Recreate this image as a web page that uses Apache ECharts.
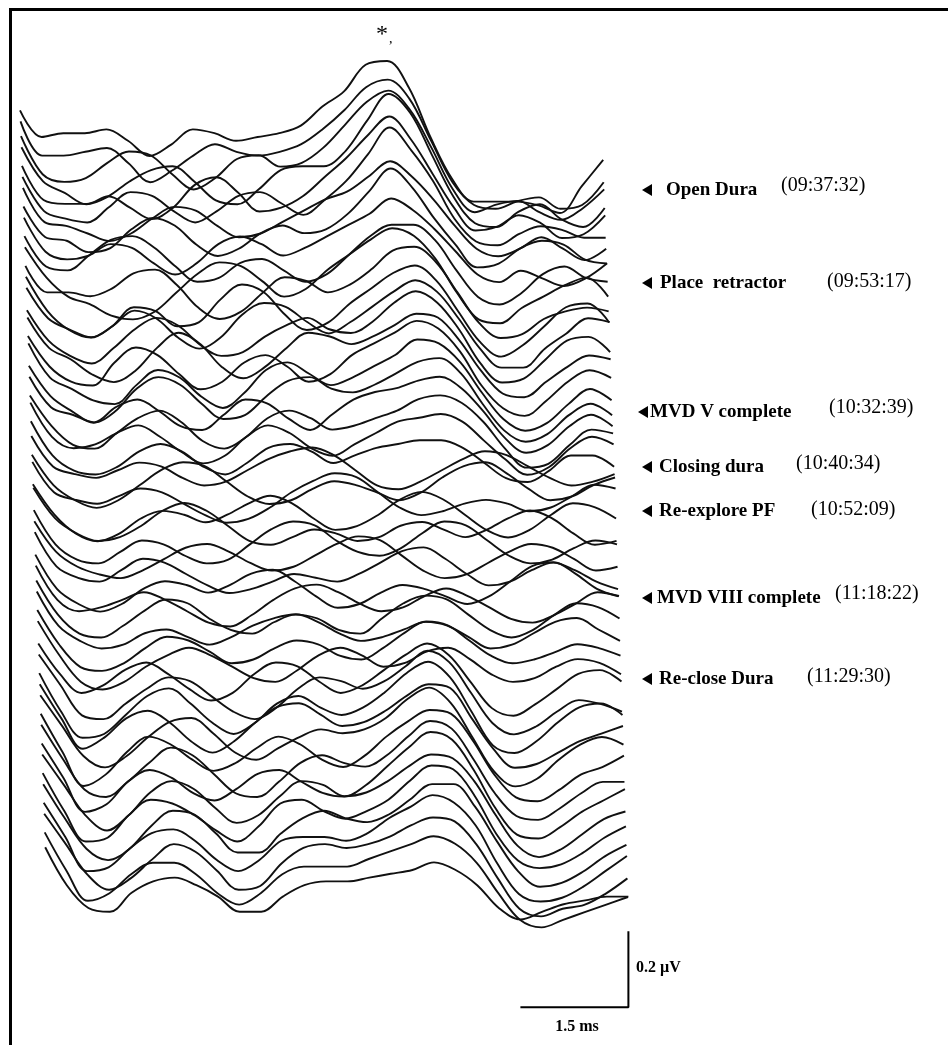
<!DOCTYPE html>
<html><head><meta charset="utf-8">
<script src="https://cdn.jsdelivr.net/npm/echarts@6/dist/echarts.min.js"></script>
<style>html,body{margin:0;padding:0;background:#fff}#c{width:948px;height:1045px}</style>
</head><body><div id="c"></div>
<script>
// Sample times of each averaged response (ms)
const timesMs = [0,0.3,0.6,0.9,1.2,1.5,1.8,2.1,2.4,2.7,3.0,3.3,3.6,3.9,4.2,4.5,4.8,5.1,5.4,5.7,6.0,6.3,6.6,6.9,7.2,7.5,7.8,8.1];

// Response amplitudes, in units of 0.01 µV, earliest trace first
const trace00 = [7,0,1,1,2,-1,-5,-2,2,1,-1,0,1,3,8,12,19,20,13,0,-11,-17,-17,-17,-18,-20,-13,-6];
const trace01 = [8,-1,-1,0,1,-3,-8,-5,-1,2,0,-1,0,2,6,11,17,19,14,3,-8,-14,-15,-13,-12,-15,-14,-8];
const trace02 = [8,-2,-4,-3,1,4,3,-2,-6,-3,2,3,0,1,5,11,17,20,15,5,-6,-12,-10,-9,-12,-14,-11,-6];
const trace03 = [9,0,-3,-6,-4,0,3,4,0,-5,-6,-2,3,4,4,8,16,23,18,7,-4,-11,-12,-8,-6,-10,-12,-7];
const trace04 = [8,-1,-2,-2,0,-3,-6,-3,3,5,1,-4,-3,0,5,10,16,21,15,6,-3,-9,-8,-5,-7,-11,-10,-5];
const trace05 = [9,0,-2,-3,1,5,4,0,-3,0,4,5,2,-1,3,8,15,22,16,8,-2,-8,-9,-6,-4,-5,-7,-7];
const trace06 = [10,1,0,-2,-4,-2,2,5,4,0,-3,-2,1,4,7,9,13,17,13,7,0,-6,-8,-6,-3,-6,-9,-6];
const trace07 = [9,1,0,-3,-2,3,6,4,-1,-4,-2,2,4,2,3,7,13,19,14,6,-1,-7,-6,-2,0,-1,-5,-6];
const trace08 = [10,1,-1,0,3,2,-2,-5,-2,3,5,3,0,2,5,8,11,15,12,7,1,-5,-7,-4,-6,-8,-6,-2];
const trace09 = [9,1,0,4,8,9,6,1,-3,-2,2,3,0,-3,-1,4,9,12,12,8,0,-7,-9,-6,-1,1,-2,-3];
const trace10 = [10,2,-3,-5,-8,-9,-7,-2,3,6,5,1,-3,-1,4,8,12,15,13,7,-2,-9,-10,-6,-3,0,2,-3];
const trace11 = [9,2,2,1,3,7,8,4,-2,-5,-3,2,6,5,2,4,8,13,14,10,2,-6,-10,-9,-5,-3,-2,-3];
const trace12 = [10,1,-4,-6,-3,2,1,-3,-2,4,8,6,0,-4,-2,3,7,11,13,9,1,-7,-11,-8,-3,2,3,-2];
const trace13 = [11,3,0,-2,1,5,3,-2,-5,-2,4,7,6,2,-1,2,6,10,13,10,3,-5,-10,-10,-5,-1,3,2];
const trace14 = [9,1,-3,-5,-1,4,7,5,0,-3,-2,2,5,7,4,3,6,11,14,11,4,-5,-10,-9,-4,1,2,-2];
const trace15 = [11,3,0,-4,-6,-3,3,7,4,-2,-5,-2,3,7,6,4,6,9,12,11,5,-3,-9,-10,-6,-2,1,0];
const trace16 = [10,2,-2,-3,3,7,5,0,-4,-2,3,5,2,-2,0,5,8,11,14,12,6,-3,-9,-11,-7,-2,1,-1];
const trace17 = [12,3,0,-3,-4,1,5,3,-2,-5,-1,5,7,4,1,3,6,9,13,12,7,-1,-8,-11,-9,-4,0,-3];
const trace18 = [10,2,-2,-5,-2,4,7,5,0,-4,-3,2,6,7,4,3,5,8,11,12,8,0,-7,-10,-8,-3,0,-3];
const trace19 = [11,3,1,-1,3,5,2,-2,-3,1,5,4,0,-3,1,5,7,8,10,11,8,2,-5,-9,-7,-2,1,-2];
const trace20 = [10,2,-3,-4,0,4,6,3,-2,-4,-1,4,6,4,1,2,4,6,9,10,8,3,-4,-9,-8,-3,1,0];
const trace21 = [12,3,0,1,4,6,3,-1,-4,-2,3,6,4,0,-2,1,4,7,8,9,7,2,-3,-7,-5,0,3,1];
const trace22 = [11,2,-2,-3,-1,3,5,3,-1,-3,0,4,5,3,0,2,4,5,6,6,4,0,-4,-5,-2,2,2,-1];
const trace23 = [11,3,1,0,2,4,3,0,-2,-1,2,5,7,8,6,2,-2,-3,-1,2,5,7,6,3,0,-2,-1,1];
const trace24 = [10,2,-2,-4,-2,2,6,8,7,3,-1,-3,-2,1,3,2,0,-2,0,4,7,8,5,1,-2,-1,2,4];
const trace25 = [12,4,2,1,3,5,4,1,-2,-4,-3,0,4,7,9,8,4,0,-2,-1,1,2,1,-1,0,3,6,5];
const trace26 = [10,2,-3,-5,-3,1,3,2,0,2,5,7,5,1,-2,-1,2,6,8,6,2,-2,-4,-2,2,5,4,1];
const trace27 = [13,5,1,-1,0,3,7,9,7,3,-1,-2,0,2,1,-1,0,3,4,2,0,2,5,7,5,1,-2,-1];
const trace28 = [11,2,-2,-3,0,3,2,-1,-3,-2,2,6,8,7,3,0,-1,1,5,8,7,3,-1,-3,-2,1,3,2];
const trace29 = [12,4,0,-2,-3,-1,2,5,6,4,1,-1,0,3,6,8,7,3,-1,-3,-2,1,4,6,5,2,-1,0];
const trace30 = [13,4,1,0,3,6,5,2,-1,-3,-2,0,2,1,0,2,5,8,9,6,2,-1,0,3,5,3,0,-2];
const trace31 = [11,2,-2,-4,-2,2,4,3,1,3,6,7,4,0,-3,-2,1,3,2,0,-2,0,4,8,9,6,2,0];
const trace32 = [12,3,0,1,3,5,3,0,-3,-4,-1,3,6,7,5,2,0,1,4,6,4,1,-2,-3,-1,2,5,4];
const trace33 = [12,3,-2,-3,0,4,7,6,2,-1,-2,1,3,2,-1,-2,2,6,8,7,3,-1,-3,-1,3,6,5,2];
const trace34 = [13,4,0,-2,-1,2,3,1,-1,1,4,6,7,5,2,0,1,3,5,4,1,-2,-1,2,5,6,3,0];
const trace35 = [12,3,-3,-4,-2,2,5,4,1,-2,-1,2,4,3,0,-1,2,6,9,8,4,0,-2,-1,1,3,2,0];
const trace36 = [13,4,-3,-5,-3,1,4,6,4,1,-2,-3,0,4,6,4,1,2,5,6,3,-1,-3,-2,1,3,2,-1];
const trace37 = [11,3,-2,0,4,6,3,-1,-4,-2,3,6,5,1,-2,0,4,8,11,8,1,-6,-8,-5,-1,3,4,1];
const trace38 = [12,4,-4,-5,-1,3,6,5,1,-3,-5,-2,3,6,5,3,5,9,13,10,2,-6,-9,-7,-3,0,-1,-3];
const trace39 = [11,1,-6,-5,0,5,7,3,-2,-5,-2,3,5,2,0,2,6,11,14,10,1,-8,-10,-7,-2,2,3,0];
const trace40 = [12,3,-5,-2,3,5,2,-3,-6,-3,2,6,7,4,1,2,5,9,12,11,3,-5,-10,-9,-6,-3,-1,1];
const trace41 = [13,5,-3,-6,-3,2,6,7,3,-2,-4,-1,2,4,3,4,7,12,15,11,2,-7,-11,-9,-4,0,2,0];
const trace42 = [12,2,-7,-4,2,6,4,0,-3,-1,3,6,4,0,-2,1,6,10,13,12,5,-4,-10,-11,-8,-4,-2,1];
const trace43 = [13,4,-4,-6,-2,3,7,5,0,-5,-6,-2,3,5,3,2,5,10,14,12,4,-5,-11,-12,-9,-5,-2,-2];
const trace44 = [12,3,-6,-4,2,5,3,-1,-3,0,4,5,2,-1,-2,1,6,11,15,13,5,-5,-12,-13,-10,-6,-3,0];
const trace45 = [13,5,-3,-7,-3,3,6,4,-1,-5,-3,2,6,5,2,3,6,10,13,12,6,-3,-11,-14,-12,-8,-4,-2];
const trace46 = [12,2,-6,-5,1,5,4,1,-3,-6,-2,4,5,2,0,2,5,10,14,13,6,-4,-11,-13,-12,-9,-5,-2];
const trace47 = [13,4,-4,-7,-4,2,6,5,0,-5,-5,0,4,6,4,3,5,9,13,13,7,-2,-10,-14,-13,-10,-6,-3];
const trace48 = [12,3,-6,-5,0,4,5,2,-3,-6,-3,2,3,3,2,4,8,11,14,12,6,-4,-12,-14,-13,-10,-6,-2];
const trace49 = [13,5,-3,-7,-4,1,5,3,-2,-7,-6,0,4,5,4,5,7,10,12,11,5,-4,-12,-14,-12,-11,-8,-4];
const trace50 = [12,2,-6,-4,1,4,4,1,-4,-7,-4,1,3,3,3,5,7,9,11,9,4,-4,-11,-13,-11,-9,-7,-5];
const trace51 = [12,2,-4,-5,0,3,4,2,-1,-5,-5,-1,2,3,3,4,5,6,8,6,2,-4,-7,-5,-3,-2,-1,-1];

const traces = [trace00,trace01,trace02,trace03,trace04,trace05,trace06,trace07,trace08,trace09,
  trace10,trace11,trace12,trace13,trace14,trace15,trace16,trace17,trace18,trace19,
  trace20,trace21,trace22,trace23,trace24,trace25,trace26,trace27,trace28,trace29,
  trace30,trace31,trace32,trace33,trace34,trace35,trace36,trace37,trace38,trace39,
  trace40,trace41,trace42,trace43,trace44,trace45,trace46,trace47,trace48,trace49,
  trace50,trace51];

// Surgical events and their clock times
const eventNames = ['Open Dura','Place  retractor','MVD V complete','Closing dura','Re-explore PF','MVD VIII complete','Re-close Dura'];
const eventTimes = ['(09:37:32)','(09:53:17)','(10:32:39)','(10:40:34)','(10:52:09)','(11:18:22)','(11:29:30)'];

// Scale bar values
const scaleBarMs = 1.5;
const scaleBarUV = 0.2;
const scaleBarXLabel = '1.5 ms';
const scaleBarYLabel = '0.2 \u00b5V';

// ---- layout (not data) ----
const unitUV = 0.01;            // one unit of the trace arrays
const traceStepUV = 0.039;      // vertical offset between successive traces
const traceShiftMs = 0.35 / 51; // perspective shift between successive traces
const scaleCorner = [8.45, -2.29];
const eventLayout = [
  {y:190, ax:642, tx:666, timeX:781, timeY:186},
  {y:283, ax:642, tx:660, timeX:827, timeY:282},
  {y:412, ax:638, tx:650, timeX:829, timeY:408},
  {y:467, ax:642, tx:659, timeX:796, timeY:464},
  {y:511, ax:642, tx:659, timeX:811, timeY:510},
  {y:598, ax:642, tx:657, timeX:835, timeY:594},
  {y:679, ax:642, tx:659, timeX:807, timeY:677}
];
const serif = '"Liberation Serif","Times New Roman",serif';

const series = traces.map((tr, i) => ({
  type: 'line', silent: true, symbol: 'none', smooth: 0.35, animation: false,
  lineStyle: {color: '#111', width: 1.9},
  data: tr.map((v, k) => [timesMs[k] + i * traceShiftMs, v * unitUV - i * traceStepUV])
}));
series.push({
  type: 'line', silent: true, symbol: 'none', animation: false,
  lineStyle: {color: '#000', width: 2},
  data: [[scaleCorner[0] - scaleBarMs, scaleCorner[1]], scaleCorner, [scaleCorner[0], scaleCorner[1] + scaleBarUV]]
});

const graphic = [
  {type:'line', shape:{x1:10.5, y1:9.5, x2:10.5, y2:1045}, style:{stroke:'#000', lineWidth:3}},
  {type:'line', shape:{x1:9, y1:9.5, x2:948, y2:9.5}, style:{stroke:'#000', lineWidth:3}},
  {type:'text', x:376, y:35, style:{text:'*', font:'24px ' + serif, fill:'#000', verticalAlign:'middle'}},
  {type:'text', x:389, y:39, style:{text:',', font:'14px ' + serif, fill:'#000', verticalAlign:'middle'}},
  {type:'text', x:636, y:968, style:{text:scaleBarYLabel, font:'bold 16px ' + serif, fill:'#000', verticalAlign:'middle'}},
  {type:'text', x:577, y:1027, style:{text:scaleBarXLabel, font:'bold 16px ' + serif, fill:'#000', align:'center', verticalAlign:'middle'}}
];
eventNames.forEach((name, j) => {
  const L = eventLayout[j];
  graphic.push({type:'polygon', shape:{points:[[L.ax, L.y], [L.ax + 10, L.y - 6], [L.ax + 10, L.y + 6]]}, style:{fill:'#000'}});
  graphic.push({type:'text', x:L.tx, y:L.y, style:{text:name, font:'bold 19px ' + serif, fill:'#000', verticalAlign:'middle'}});
  graphic.push({type:'text', x:L.timeX, y:L.timeY, style:{text:eventTimes[j], font:'20px ' + serif, fill:'#000', verticalAlign:'middle'}});
});

const chart = echarts.init(document.getElementById('c'), null, {renderer:'canvas'});
chart.setOption({
  backgroundColor: '#fff',
  animation: false,
  grid: {left: 20, top: 0, width: 612, height: 1045},
  xAxis: {type: 'value', min: 0, max: 8.5, show: false},
  yAxis: {type: 'value', min: 0.3605 - 1045 / 380, max: 0.3605, show: false},
  series: series,
  graphic: graphic
});
</script></body></html>
